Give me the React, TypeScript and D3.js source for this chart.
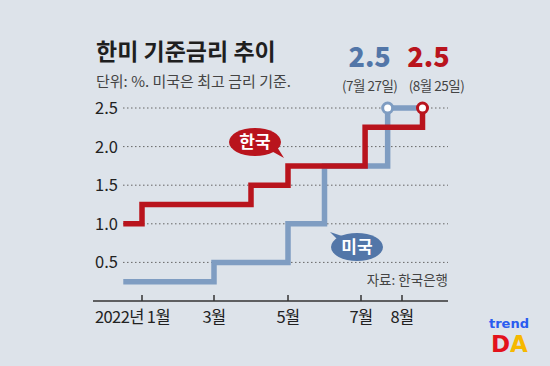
import * as d3 from "d3";

// month positions (1 = Jan) and rates
const xTickMonths = [1, 3, 5, 7, 8];
const xTickLabels = ["2022년 1월", "3월", "5월", "7월", "8월"];
const yTicks = [0.5, 1.0, 1.5, 2.0, 2.5];

const koreaMonths = [0.48, 1, 4, 5, 7.1, 8.5];
const koreaRates = [1.0, 1.25, 1.5, 1.75, 2.25, 2.5];

const usMonths = [0.48, 3, 5, 6, 7.65, 8.5];
const usRates = [0.25, 0.5, 1.0, 1.75, 2.5, 2.5];

const usLatest = { month: 7.65, rate: 2.5, label: "(7월 27일)" };
const koreaLatest = { month: 8.5, rate: 2.5, label: "(8월 25일)" };

const W = 550;
const H = 366;
const FONT = "'Noto Sans CJK KR', 'Noto Sans', sans-serif";
const RED = "#b9141d";
const BLUE = "#7f9dc2";
const DARKBLUE = "#5276a8";

export default function App() {
  const x = d3.scaleLinear().domain(xTickMonths).range([142, 214, 288, 361, 402]);
  const y = d3.scaleLinear().domain([0, 2.5]).range([301, 108]);

  const line = d3
    .line<[number, number]>()
    .x((d) => x(d[0]))
    .y((d) => y(d[1]))
    .curve(d3.curveStepAfter);

  const korea = koreaMonths.map((m, i) => [m, koreaRates[i]] as [number, number]);
  const us = usMonths.map((m, i) => [m, usRates[i]] as [number, number]);

  const gridLeft = 123;
  const right = 448;

  return (
    <svg
      width={W}
      height={H}
      style={{ position: "absolute", left: 0, top: 0 }}
      fontFamily={FONT}
    >
      <rect width={W} height={H} fill="#dde3ea" />

      {/* titles */}
      <text x={96} y={60} fontSize={23} fontWeight={700} fill="#1f1f1f">
        한미 기준금리 추이
      </text>
      <text x={96} y={87} fontSize={15} fill="#444">
        단위: %. 미국은 최고 금리 기준.
      </text>

      {/* latest values */}
      <text x={x(usLatest.month) - 18} y={67} textAnchor="middle" fontSize={27} fontWeight={900} fill={DARKBLUE}>
        {usLatest.rate.toFixed(1)}
      </text>
      <text x={x(usLatest.month) - 18} y={91} textAnchor="middle" fontSize={13.5} letterSpacing={-0.5} fill="#444">
        {usLatest.label}
      </text>
      <text x={x(koreaLatest.month) + 6} y={67} textAnchor="middle" fontSize={27} fontWeight={900} fill={RED}>
        {koreaLatest.rate.toFixed(1)}
      </text>
      <text x={x(koreaLatest.month) + 14} y={91} textAnchor="middle" fontSize={13.5} letterSpacing={-0.5} fill="#444">
        {koreaLatest.label}
      </text>

      {/* grid + y labels */}
      {yTicks.map((t) => (
        <g key={t}>
          <line
            x1={gridLeft}
            x2={right}
            y1={y(t)}
            y2={y(t)}
            stroke="#666"
            strokeWidth={1}
            strokeDasharray="1.5,2.5"
          />
          <text
            x={118}
            y={y(t)}
            dy="0.36em"
            textAnchor="end"
            fontSize={16.5}
            fill="#222"
          >
            {t.toFixed(1)}
          </text>
        </g>
      ))}

      {/* x axis */}
      <line x1={93} x2={right} y1={301} y2={301} stroke="#333" strokeWidth={1.5} />
      {xTickMonths.map((m, i) => (
        <g key={m}>
          <line x1={x(m)} x2={x(m)} y1={301} y2={295} stroke="#333" strokeWidth={1.5} />
          <text
            x={i === 0 ? x(m) + 28 : x(m)}
            y={323}
            textAnchor={i === 0 ? "end" : "middle"}
            fontSize={16.5}
            letterSpacing={-0.6}
            fill="#222"
          >
            {xTickLabels[i]}
          </text>
        </g>
      ))}

      <text x={right} y={285} textAnchor="end" fontSize={13.5} fill="#444">
        자료: 한국은행
      </text>

      {/* series */}
      <path d={line(us)!} fill="none" stroke={BLUE} strokeWidth={5.5} />
      <path d={line(korea)!} fill="none" stroke={RED} strokeWidth={5.5} />
      <circle cx={x(usLatest.month)} cy={y(usLatest.rate)} r={5} fill="#fff" stroke={BLUE} strokeWidth={3} />
      <circle cx={x(koreaLatest.month)} cy={y(koreaLatest.rate)} r={5} fill="#fff" stroke={RED} strokeWidth={3} />

      {/* callouts */}
      <g>
        <path d="M 266 148 L 284 158 L 274 142 Z" fill={RED} />
        <ellipse cx={255} cy={142} rx={26} ry={14} fill={RED} />
        <text x={255} y={142} dy="0.36em" textAnchor="middle" fontSize={17} fontWeight={700} fill="#fff">
          한국
        </text>
      </g>
      <g>
        <path d="M 340 242 L 330 232 L 348 238 Z" fill={DARKBLUE} />
        <ellipse cx={357} cy={247} rx={26} ry={14} fill={DARKBLUE} />
        <text x={357} y={247} dy="0.36em" textAnchor="middle" fontSize={17} fontWeight={700} fill="#fff">
          미국
        </text>
      </g>

      {/* logo */}
      <text x={509} y={328} textAnchor="middle" fontSize={13} fontWeight={700} fill="#2a5cf0" fontFamily="'DejaVu Sans', sans-serif">
        trend
      </text>
      <text x={491} y={352} fontSize={23} fontWeight={700} fill="#e3121c" fontFamily="'DejaVu Sans', sans-serif">
        D
      </text>
      <text x={510} y={352} fontSize={23} fontWeight={700} fill="#f6b800" fontFamily="'DejaVu Sans', sans-serif">
        A
      </text>
    </svg>
  );
}
